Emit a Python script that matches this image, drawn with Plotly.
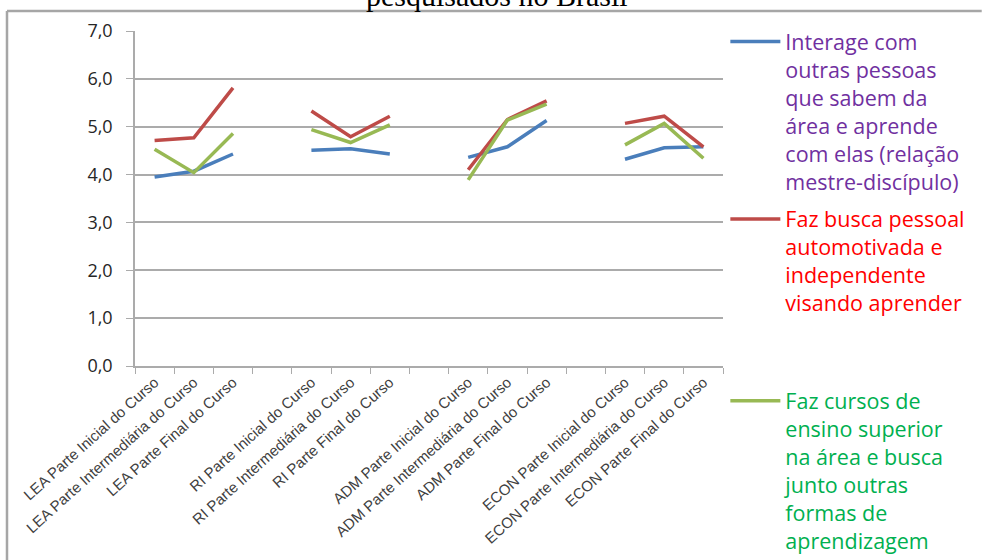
import plotly.graph_objects as go

# Courses and course stages along the x axis
groups = ["LEA", "RI", "ADM", "ECON"]
stages = ["Parte Inicial do Curso", "Parte Intermediária do Curso", "Parte Final do Curso"]

# Mean scores per course stage (LEA, RI, ADM, ECON × 3 stages)
interage = [3.95, 4.07, 4.43, 4.51, 4.54, 4.43, 4.36, 4.58, 5.13, 4.32, 4.56, 4.58]
busca_pessoal = [4.71, 4.77, 5.81, 5.33, 4.79, 5.22, 4.10, 5.15, 5.54, 5.07, 5.22, 4.58]
cursos_superior = [4.53, 4.04, 4.86, 4.94, 4.67, 5.04, 3.89, 5.14, 5.47, 4.62, 5.07, 4.34]

series_names = [
    "Interage com<br>outras pessoas<br>que sabem da<br>área e aprende<br>com elas (relação<br>mestre-discípulo)",
    "Faz busca pessoal<br>automotivada e<br>independente<br>visando aprender",
    "Faz cursos de<br>ensino superior<br>na área e busca<br>junto outras<br>formas de<br>aprendizagem",
]
line_colors = ["#4A7EBB", "#BE4B48", "#98B954"]
text_colors = ["#7030A0", "#FF0000", "#00B050"]
title_text = "pesquisados no Brasil"

# Build the category list, with an empty slot between courses
categories = []
for gi, g in enumerate(groups):
    for s in stages:
        categories.append(f"{g} {s}")
    if gi < len(groups) - 1:
        categories.append(" " * (gi + 1))


def spread(values):
    out, k = [], 0
    for gi in range(len(groups)):
        for _ in stages:
            out.append(values[k])
            k += 1
        if gi < len(groups) - 1:
            out.append(None)
    return out


fig = go.Figure()
legend_ids = ["legend", "legend2", "legend3"]
for vals, name, col, lid in zip([interage, busca_pessoal, cursos_superior],
                                series_names, line_colors, legend_ids):
    fig.add_trace(go.Scatter(
        x=categories, y=spread(vals), mode="lines", name=name,
        line=dict(color=col, width=3.5), connectgaps=False, legend=lid,
        hoverinfo="skip",
    ))

grid_col = "#ABABAB"
legend_common = dict(x=1.004, xanchor="left", yanchor="top", bgcolor="rgba(0,0,0,0)",
                     itemwidth=50, valign="top", borderwidth=0,
                     tracegroupgap=0, itemclick=False)
legend_font = dict(family="Open Sans, sans-serif", size=21.5)

fig.update_layout(
    width=983, height=560, autosize=False,
    margin=dict(l=135, r=260, t=31, b=194, autoexpand=False),
    paper_bgcolor="white", plot_bgcolor="white",
    separators=",.",
    font=dict(family="Liberation Sans, Arial, sans-serif", color="#262626"),
    xaxis=dict(
        type="category", categoryorder="array", categoryarray=categories,
        range=[-0.5, len(categories) - 0.5], automargin=False,
        tickson="boundaries", ticks="outside", ticklen=6, tickcolor=grid_col,
        showline=True, linecolor=grid_col, linewidth=1.5, showgrid=False,
        tickangle=-42, tickfont=dict(family="Liberation Sans, Arial", size=15, color="#404040"),
    ),
    yaxis=dict(
        range=[0, 7], dtick=1, tickformat=".1f", automargin=False,
        showgrid=True, gridcolor=grid_col, gridwidth=1.5,
        showline=True, linecolor=grid_col, linewidth=1.5,
        ticks="outside", ticklen=7, tickcolor=grid_col, ticklabelstandoff=10,
        zeroline=False,
        tickfont=dict(family="Open Sans, sans-serif", size=18, color="#262626"),
    ),
    legend=dict(**legend_common, y=1.03, font=dict(**legend_font, color=text_colors[0])),
    legend2=dict(**legend_common, y=0.4997, font=dict(**legend_font, color=text_colors[1])),
    legend3=dict(**legend_common, y=-0.0427, font=dict(**legend_font, color=text_colors[2])),
    showlegend=True,
)

# Partially visible chart title above the frame
fig.add_annotation(
    text=title_text, xref="paper", yref="paper", x=0.616, y=1, xanchor="center",
    yanchor="bottom", yshift=16.5, showarrow=False,
    font=dict(family="Liberation Serif, serif", size=30, color="#000000"),
)

# Outer chart frame: top and left edges (the rest runs past the page)
frame = dict(color="#A6A6A6", width=2.5)
fig.add_shape(type="line", xref="paper", yref="paper",
              x0=-0.2177, x1=1.44, y0=1.0597, y1=1.0597, line=frame, layer="below")
fig.add_shape(type="line", xref="paper", yref="paper",
              x0=-0.2177, x1=-0.2177, y0=-0.62, y1=1.0597, line=frame, layer="below")

fig.write_html("out.html")
